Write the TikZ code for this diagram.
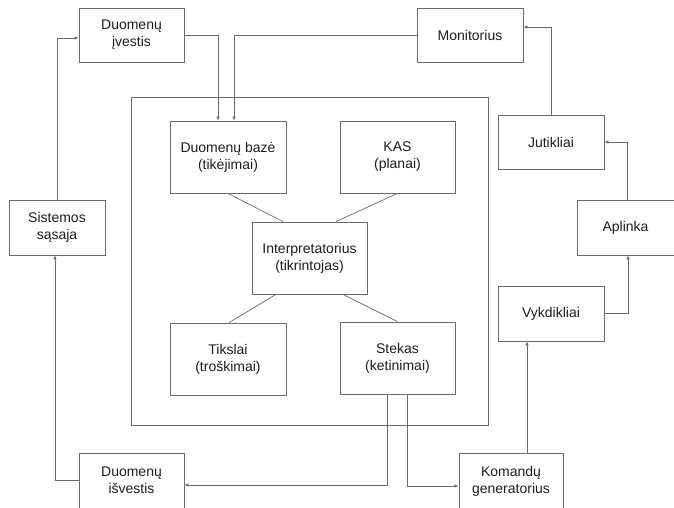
\documentclass[tikz,border=0pt]{standalone}
\usepackage{fontspec}
\setmainfont{Liberation Sans}
\usetikzlibrary{arrows.meta}
\definecolor{edgegray}{HTML}{6A6A6A}
\definecolor{inkgray}{HTML}{1E1E1E}
\begin{document}
\begin{tikzpicture}[x=1pt,y=-1pt,
  box/.style={draw=edgegray,line width=0.8pt,fill=white,inner sep=0pt,
    text=inkgray,align=center,font=\fontsize{14}{17}\selectfont},
  wire/.style={draw=edgegray,line width=0.7pt},
  flow/.style={wire,-{Latex[length=4pt,width=3.5pt]}}]
\useasboundingbox (0,0) rectangle (674,508);

% agent core frame
\draw[edgegray,line width=0.8pt] (131,97) rectangle (488,425);

% boxes
\node[box,minimum width=105,minimum height=54] (din) at (131.5,35) {Duomenų\\įvestis};
\node[box,minimum width=106,minimum height=54] (mon) at (470,35) {Monitorius};
\node[box,minimum width=116,minimum height=72] (db) at (228,157) {Duomenų bazė\\(tikėjimai)};
\node[box,minimum width=115,minimum height=72] (kas) at (397.5,157) {KAS\\(planai)};
\node[box,minimum width=106,minimum height=54] (jut) at (551,142) {Jutikliai};
\node[box,minimum width=96,minimum height=55] (sis) at (57,227.5) {Sistemos\\sąsaja};
\node[box,minimum width=97,minimum height=55] (apl) at (625.5,227.5) {Aplinka};
\node[box,minimum width=115,minimum height=72] (intp) at (309.5,258) {Interpretatorius\\(tikrintojas)};
\node[box,minimum width=106,minimum height=55] (vyk) at (551,313.5) {Vykdikliai};
\node[box,minimum width=116,minimum height=72] (tik) at (228,359) {Tikslai\\(troškimai)};
\node[box,minimum width=115,minimum height=72] (stk) at (397.5,358) {Stekas\\(ketinimai)};
\node[box,minimum width=105,minimum height=55] (dout) at (131.5,480.5) {Duomenų\\išvestis};
\node[box,minimum width=104,minimum height=55] (kom) at (511,481) {Komandų\\generatorius};

% links around the interpreter
\draw[wire] (db.south) -- ([xshift=-26.5pt]intp.north);
\draw[wire] (kas.south) -- ([xshift=26.5pt]intp.north);
\draw[wire] ([xshift=-33.5pt]intp.south) -- ([xshift=1pt]tik.north);
\draw[wire] ([xshift=33.5pt]intp.south) -- (stk.north);

% input paths into the belief base
\draw[flow] (din.east) -| ([xshift=-10pt]db.north);
\draw[flow] (mon.west) -| ([xshift=6pt]db.north);

% sensing loop
\draw[flow] (jut.north) |- ([yshift=8pt]mon.east);
\draw[flow] ([xshift=1.5pt]apl.north) |- (jut.east);
\draw[flow] (vyk.east) -| ([xshift=2.5pt]apl.south);
\draw[flow] ([xshift=16pt]kom.north) -- ([xshift=16pt]kom.north |- vyk.south);

% output paths from the stack
\draw[flow] ([xshift=-10.5pt]stk.south) |- ([yshift=-4.5pt]dout.east);
\draw[flow] ([xshift=9.5pt]stk.south) |- ([yshift=-5pt]kom.west);
\draw[flow] (dout.west) -| ([xshift=-2pt]sis.south);
\draw[flow] (sis.north) |- ([yshift=-3pt]din.west);
\end{tikzpicture}
\end{document}
